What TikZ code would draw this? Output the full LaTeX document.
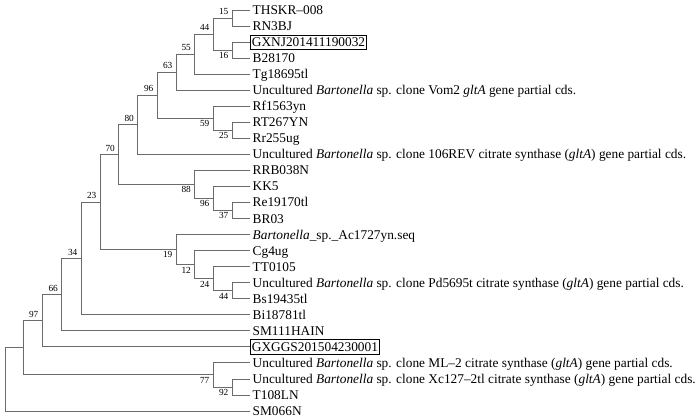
\documentclass[tikz,border=0pt]{standalone}
\usepackage{fontspec}
\setmainfont{Liberation Serif}
\usetikzlibrary{calc}
\begin{document}
\begin{tikzpicture}[x=1pt,y=-1pt,
  branch/.style={draw=black!58,line width=0.85pt},
  leaf/.style={anchor=west,inner xsep=2.5pt,inner ysep=0pt,font=\fontsize{13.35}{13.35}\selectfont,text height=9pt,text depth=0pt},
  boxed/.style={leaf,draw=black,line width=0.8pt,inner xsep=1.5pt,inner ysep=2.6pt},
  bsa/.style={anchor=south east,inner sep=0pt,xshift=-3.5pt,yshift=3pt,font=\fontsize{9.3}{9.3}\selectfont},
  bsb/.style={anchor=north east,inner sep=0pt,xshift=-3.5pt,yshift=-2pt,font=\fontsize{9.3}{9.3}\selectfont}]
\useasboundingbox (0,0) rectangle (700,418);
% leaves
\node[leaf]  (l1)  at (250,10.00) {THSKR–008};
\node[leaf]  (l2)  at (250,26.04) {RN3BJ};
\node[boxed] (l3)  at (250,42.08) {GXNJ201411190032};
\node[leaf]  (l4)  at (250,58.12) {B28170};
\node[leaf]  (l5)  at (250,74.16) {Tg18695tl};
\node[leaf]  (l6)  at (250,90.20) {Uncultured \textit{Bartonella} sp. clone Vom2 \textit{gltA} gene partial cds.};
\node[leaf]  (l7)  at (250,106.24) {Rf1563yn};
\node[leaf]  (l8)  at (250,122.28) {RT267YN};
\node[leaf]  (l9)  at (250,138.32) {Rr255ug};
\node[leaf]  (l10) at (250,154.36) {Uncultured \textit{Bartonella} sp. clone 106REV citrate synthase (\textit{gltA}) gene partial cds.};
\node[leaf]  (l11) at (250,170.40) {RRB038N};
\node[leaf]  (l12) at (250,186.44) {KK5};
\node[leaf]  (l13) at (250,202.48) {Re19170tl};
\node[leaf]  (l14) at (250,218.52) {BR03};
\node[leaf]  (l15) at (250,234.56) {\textit{Bartonella}\_sp.\_Ac1727yn.seq};
\node[leaf]  (l16) at (250,250.60) {Cg4ug};
\node[leaf]  (l17) at (250,266.64) {TT0105};
\node[leaf]  (l18) at (250,282.68) {Uncultured \textit{Bartonella} sp. clone Pd5695t citrate synthase (\textit{gltA}) gene partial cds.};
\node[leaf]  (l19) at (250,298.72) {Bs19435tl};
\node[leaf]  (l20) at (250,314.76) {Bi18781tl};
\node[leaf]  (l21) at (250,330.80) {SM111HAIN};
\node[boxed] (l22) at (250,346.84) {GXGGS201504230001};
\node[leaf]  (l23) at (250,362.88) {Uncultured \textit{Bartonella} sp. clone ML–2 citrate synthase (\textit{gltA}) gene partial cds.};
\node[leaf]  (l24) at (250,378.92) {Uncultured \textit{Bartonella} sp. clone Xc127–2tl citrate synthase (\textit{gltA}) gene partial cds.};
\node[leaf]  (l25) at (250,394.96) {T108LN};
\node[leaf]  (l26) at (250,411.00) {SM066N};
% internal nodes
\coordinate (n15)  at (232,18.02);
\coordinate (n16)  at (232,50.10);
\coordinate (n44)  at (213,34.06);
\coordinate (n55)  at (194.5,54.11);
\coordinate (n63)  at (176,72.16);
\coordinate (n25)  at (232,130.30);
\coordinate (n59)  at (213,118.27);
\coordinate (n96)  at (157,95.21);
\coordinate (n80)  at (137.5,124.79);
\coordinate (n37)  at (232,210.50);
\coordinate (n96b) at (213,198.47);
\coordinate (n88)  at (194.5,184.44);
\coordinate (n70)  at (118.5,154.61);
\coordinate (n44b) at (232,290.70);
\coordinate (n24)  at (213,278.67);
\coordinate (n12)  at (194.5,264.64);
\coordinate (n19)  at (176,249.60);
\coordinate (n23)  at (100,202.10);
\coordinate (n34)  at (81,258.43);
\coordinate (n66)  at (61.5,294.62);
\coordinate (n97)  at (42,320.73);
\coordinate (n92)  at (232,386.94);
\coordinate (n77)  at (213,374.91);
\coordinate (nx)   at (23,347.82);
\coordinate (root) at (5,379.41);
% branches
\draw[branch] (n15) |- (l1.west);  \draw[branch] (n15) |- (l2.west);
\draw[branch] (n16) |- (l3.west);  \draw[branch] (n16) |- (l4.west);
\draw[branch] (n44) |- (n15);      \draw[branch] (n44) |- (n16);
\draw[branch] (n55) |- (n44);      \draw[branch] (n55) |- (l5.west);
\draw[branch] (n63) |- (n55);      \draw[branch] (n63) |- (l6.west);
\draw[branch] (n25) |- (l8.west);  \draw[branch] (n25) |- (l9.west);
\draw[branch] (n59) |- (l7.west);  \draw[branch] (n59) |- (n25);
\draw[branch] (n96) |- (n63);      \draw[branch] (n96) |- (n59);
\draw[branch] (n80) |- (n96);      \draw[branch] (n80) |- (l10.west);
\draw[branch] (n37) |- (l13.west); \draw[branch] (n37) |- (l14.west);
\draw[branch] (n96b) |- (l12.west); \draw[branch] (n96b) |- (n37);
\draw[branch] (n88) |- (l11.west); \draw[branch] (n88) |- (n96b);
\draw[branch] (n70) |- (n80);      \draw[branch] (n70) |- (n88);
\draw[branch] (n44b) |- (l18.west); \draw[branch] (n44b) |- (l19.west);
\draw[branch] (n24) |- (l17.west); \draw[branch] (n24) |- (n44b);
\draw[branch] (n12) |- (l16.west); \draw[branch] (n12) |- (n24);
\draw[branch] (n19) |- (l15.west); \draw[branch] (n19) |- (n12);
\draw[branch] (n23) |- (n70);      \draw[branch] (n23) |- (n19);
\draw[branch] (n34) |- (n23);      \draw[branch] (n34) |- (l20.west);
\draw[branch] (n66) |- (n34);      \draw[branch] (n66) |- (l21.west);
\draw[branch] (n97) |- (n66);      \draw[branch] (n97) |- (l22.west);
\draw[branch] (n92) |- (l24.west); \draw[branch] (n92) |- (l25.west);
\draw[branch] (n77) |- (l23.west); \draw[branch] (n77) |- (n92);
\draw[branch] (nx) |- (n97);       \draw[branch] (nx) |- (n77);
\draw[branch] (root) |- (nx);      \draw[branch] (root) |- (l26.west);
% bootstrap values
\node[bsa] (b15)  at (n15)  {15};
\node[bsb] (b16)  at (n16)  {16};
\node[bsa] (b44)  at (n44)  {44};
\node[bsa] (b55)  at (n55)  {55};
\node[bsa] (b63)  at (n63)  {63};
\node[bsb] (b25)  at (n25)  {25};
\node[bsb] (b59)  at (n59)  {59};
\node[bsa] (b96)  at (n96)  {96};
\node[bsa] (b80)  at (n80)  {80};
\node[bsb] (b37)  at (n37)  {37};
\node[bsb] (b96b) at (n96b) {96};
\node[bsb] (b88)  at (n88)  {88};
\node[bsa] (b70)  at (n70)  {70};
\node[bsb] (b44b) at (n44b) {44};
\node[bsb] (b24)  at (n24)  {24};
\node[bsb] (b12)  at (n12)  {12};
\node[bsb] (b19)  at (n19)  {19};
\node[bsa] (b23)  at (n23)  {23};
\node[bsa] (b34)  at (n34)  {34};
\node[bsa] (b66)  at (n66)  {66};
\node[bsa] (b97)  at (n97)  {97};
\node[bsb] (b92)  at (n92)  {92};
\node[bsb] (b77)  at (n77)  {77};
\end{tikzpicture}
\end{document}
